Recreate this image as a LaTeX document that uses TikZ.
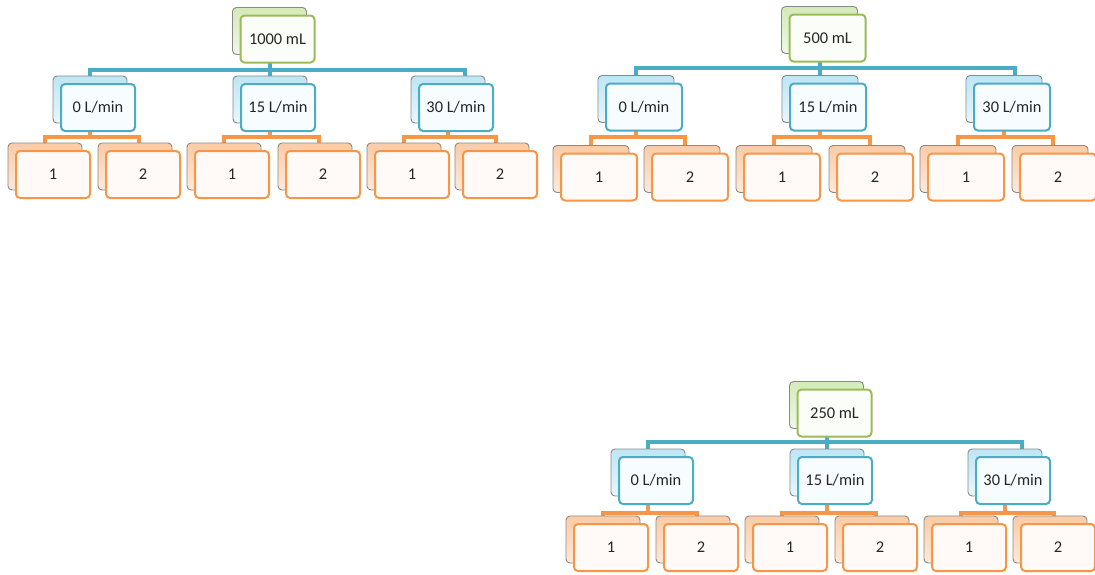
\documentclass[tikz,border=0pt]{standalone}
\usepackage{fontspec}
\setmainfont{Carlito}
\pgfdeclarelayer{background}
\pgfsetlayers{background,main}

\definecolor{grnEdge}{HTML}{9BBB59}
\definecolor{grnTop}{HTML}{D3EBB8}
\definecolor{grnBot}{HTML}{EFF7E6}
\definecolor{grnFace}{HTML}{FBFDF8}
\definecolor{bluEdge}{HTML}{4BACC6}
\definecolor{bluTop}{HTML}{BDE6F5}
\definecolor{bluBot}{HTML}{E8F7FC}
\definecolor{bluFace}{HTML}{F7FCFE}
\definecolor{orgEdge}{HTML}{F79646}
\definecolor{orgTop}{HTML}{FBCBA6}
\definecolor{orgBot}{HTML}{FDE9DA}
\definecolor{orgFace}{HTML}{FFFAF7}
\definecolor{backEdge}{HTML}{8A8A8A}
\definecolor{labelInk}{HTML}{262626}

\def\cardw{74pt}

\tikzset{
  card/.style={rounded corners=4pt, minimum width=\cardw, minimum height=47pt,
    inner sep=0pt, text=labelInk, font=\fontsize{16.4}{18}\selectfont},
  backcard/.style={card, draw=backEdge, line width=0.9pt,
    top color=#1Top, bottom color=#1Bot},
  frontcard/.style={card, draw=#1Edge, line width=2pt, fill=#1Face},
  bluebus/.style={draw=bluEdge, line width=4pt},
  orangebus/.style={draw=orgEdge, line width=4pt},
}

% a card with a second copy stacked behind it
\newcommand\stackcard[5]{% name, colour set, x, y (back copy), label
  \node[backcard=#2] (#1-b) at (#3,#4) {};
  \node[frontcard=#2, xshift=8pt, yshift=-8pt] (#1) at (#3,#4) {#5};
}

% parent to three children over a shared bus
\newcommand\branchlinks[7]{% parent, child 1, child 2, child 3, bus level, style, last offset
  \draw[#6] (#1-b.center) -- (#1-b.center |- #5) -| (#2-b.north);
  \draw[#6] (#1-b.center) -- (#1-b.center |- #5) -| (#3-b.north);
  \draw[#6] (#1-b.center) -- (#1-b.center |- #5) -| ([xshift=#7]#4-b.north);
}
% parent to its two replicates
\newcommand\pairlinks[5]{% parent, child 1, child 2, bus level, last offset
  \draw[orangebus] (#1-b.center) -- (#1-b.center |- #4) -| (#2-b.north);
  \draw[orangebus] (#1-b.center) -- (#1-b.center |- #4) -| ([xshift=#5]#3-b.north);
}

\begin{document}
\begin{tikzpicture}[x=1pt, y=-1pt]
\useasboundingbox (0,0) rectangle (1095,574);
\begin{pgfonlayer}{background}
  \fill[white] (0,0) rectangle (1095,574);
\end{pgfonlayer}

% ---------------- 1000 mL ----------------
\def\cardw{74pt}
\stackcard{r1}{grn}{269.5}{31}{1000 mL}
\stackcard{r1a}{blu}{90}{99.5}{0 L/min}
\stackcard{r1b}{blu}{270}{99.5}{15 L/min}
\stackcard{r1c}{blu}{448}{99.5}{30 L/min}
\stackcard{r1a1}{org}{45}{166.5}{1}
\stackcard{r1a2}{org}{135}{166.5}{2}
\stackcard{r1b1}{org}{224}{166.5}{1}
\stackcard{r1b2}{org}{315}{166.5}{2}
\stackcard{r1c1}{org}{404}{166.5}{1}
\stackcard{r1c2}{org}{492}{166.5}{2}
\coordinate (t1hi) at (0,70);
\coordinate (t1lo) at (0,137);

% ---------------- 500 mL ----------------
\def\cardw{76pt}
\stackcard{r2}{grn}{819.5}{30}{500 mL}
\stackcard{r2a}{blu}{636}{99}{0 L/min}
\stackcard{r2b}{blu}{820}{99}{15 L/min}
\stackcard{r2c}{blu}{1004}{99}{30 L/min}
\stackcard{r2a1}{org}{591}{169}{1}
\stackcard{r2a2}{org}{682}{169}{2}
\stackcard{r2b1}{org}{774}{169}{1}
\stackcard{r2b2}{org}{867}{169}{2}
\stackcard{r2c1}{org}{958}{169}{1}
\stackcard{r2c2}{org}{1050}{169}{2}
\coordinate (t2hi) at (0,68);
\coordinate (t2lo) at (0,137);

% ---------------- 250 mL ----------------
\def\cardw{74pt}
\stackcard{r3}{grn}{826.5}{405}{250 mL}
\stackcard{r3a}{blu}{648}{472.5}{0 L/min}
\stackcard{r3b}{blu}{827}{472.5}{15 L/min}
\stackcard{r3c}{blu}{1005}{472.5}{30 L/min}
\stackcard{r3a1}{org}{603}{539.5}{1}
\stackcard{r3a2}{org}{693}{539.5}{2}
\stackcard{r3b1}{org}{782}{539.5}{1}
\stackcard{r3b2}{org}{872}{539.5}{2}
\stackcard{r3c1}{org}{961}{539.5}{1}
\stackcard{r3c2}{org}{1050}{539.5}{2}
\coordinate (t3hi) at (0,442);
\coordinate (t3lo) at (0,513);

% ---------------- connectors ----------------
\begin{pgfonlayer}{background}
  \branchlinks{r1}{r1a}{r1b}{r1c}{t1hi}{bluebus}{17pt}
  \pairlinks{r1a}{r1a1}{r1a2}{t1lo}{4pt}
  \pairlinks{r1b}{r1b1}{r1b2}{t1lo}{4pt}
  \pairlinks{r1c}{r1c1}{r1c2}{t1lo}{4pt}

  \branchlinks{r2}{r2a}{r2b}{r2c}{t2hi}{bluebus}{11pt}
  \pairlinks{r2a}{r2a1}{r2a2}{t2lo}{3pt}
  \pairlinks{r2b}{r2b1}{r2b2}{t2lo}{3pt}
  \pairlinks{r2c}{r2c1}{r2c2}{t2lo}{3pt}

  \branchlinks{r3}{r3a}{r3b}{r3c}{t3hi}{bluebus}{17pt}
  \pairlinks{r3a}{r3a1}{r3a2}{t3lo}{4pt}
  \pairlinks{r3b}{r3b1}{r3b2}{t3lo}{4pt}
  \pairlinks{r3c}{r3c1}{r3c2}{t3lo}{4pt}
\end{pgfonlayer}
\end{tikzpicture}
\end{document}
